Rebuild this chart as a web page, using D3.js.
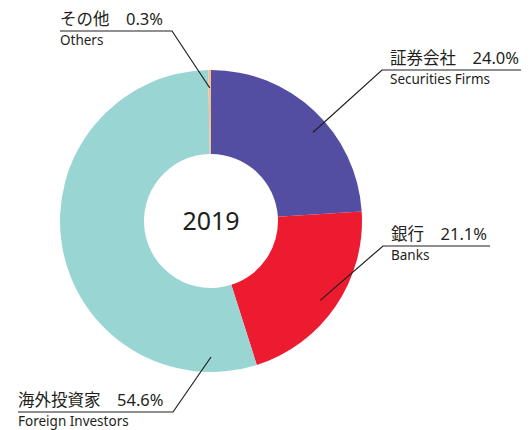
<!DOCTYPE html>
<html>
<head>
<meta charset="utf-8">
<script src="https://cdn.jsdelivr.net/npm/d3@7"></script>
<style>
  body { margin: 0; background: #fff; }
  text { font-family: "Noto Sans", "Noto Sans CJK JP", sans-serif; fill: #231f20; }
</style>
</head>
<body>
<div id="chart"></div>
<script>
// data
var categoriesJa = ["証券会社", "銀行", "海外投資家", "その他"];
var categoriesEn = ["Securities Firms", "Banks", "Foreign Investors", "Others"];
var shares = [24.0, 21.1, 54.6, 0.3];
var colors = ["#534ea1", "#ed1b30", "#98d5d3", "#f6c08e"];
var yearLabel = "2019";

var svgWidth = 529;
var svgHeight = 430;
var cx = 211, cy = 221;
var outerR = 151, innerR = 67;

var svg = d3.select("#chart")
  .append("svg")
  .attr("width", svgWidth)
  .attr("height", svgHeight);

var g = svg.append("g")
  .attr("transform", `translate(${cx}, ${cy})`);

var pie = d3.pie().sort(null).value(d => d);
var arc = d3.arc().innerRadius(innerR).outerRadius(outerR);

var arcs = pie(shares);

g.selectAll("path")
  .data(arcs)
  .enter()
  .append("path")
  .attr("d", arc)
  .attr("fill", (d, i) => colors[i]);

g.append("text")
  .attr("text-anchor", "middle")
  .attr("y", 9)
  .style("font-size", "25px")
  .text(yearLabel);

// label layout: angle (deg from top) of leader end, underline start/end, baseline y
var labelLayout = [
  { ang: 49, r: 135, lineX0: 382, lineX1: 521, lineY: 70, side: "right" },
  { ang: 126, r: 135, lineX0: 383, lineX1: 490, lineY: 246, side: "right" },
  { ang: 180, r: 136, lineX0: 173, lineX1: 18, lineY: 412, side: "left" },
  { ang: 359.5, r: 133, lineX0: 172, lineX1: 60, lineY: 31, side: "left" }
];

var labels = svg.append("g");

arcs.forEach(function(d, i) {
  var L = labelLayout[i];
  var a = L.ang * Math.PI / 180;
  var px = cx + L.r * Math.sin(a);
  var py = cy - L.r * Math.cos(a);

  labels.append("polyline")
    .attr("points", `${px},${py} ${L.lineX0},${L.lineY} ${L.lineX1},${L.lineY}`)
    .attr("fill", "none")
    .attr("stroke", "#231f20")
    .attr("stroke-width", 1.2);

  var tx = Math.min(L.lineX0, L.lineX1) + (L.side === "right" ? 8 : 0);

  labels.append("text")
    .attr("x", tx)
    .attr("y", L.lineY - 6)
    .style("font-size", "16.5px")
    .text(categoriesJa[i] + "\u3000" + shares[i].toFixed(1) + "%");

  labels.append("text")
    .attr("x", tx)
    .attr("y", L.lineY + 14)
    .style("font-size", "13.5px")
    .text(categoriesEn[i]);
});
</script>
</body>
</html>
